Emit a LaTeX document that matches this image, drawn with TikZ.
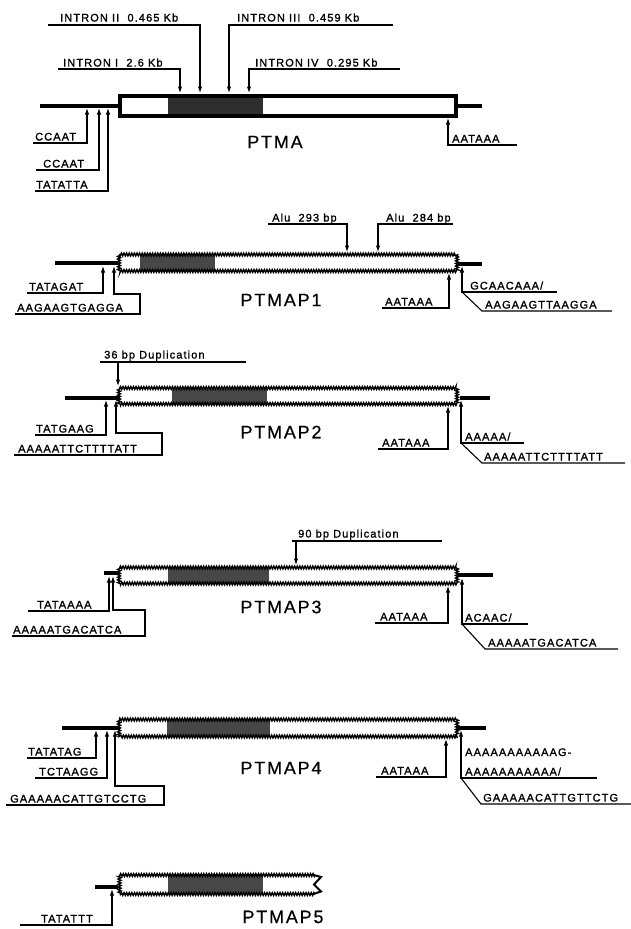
\documentclass[tikz,border=0pt]{standalone}
\usepackage{fontspec}
\usetikzlibrary{arrows.meta,decorations.pathmorphing}
\newfontfamily\labfont[LetterSpace=10,FakeBold=1.2]{Liberation Sans}
\newfontfamily\genefont[LetterSpace=10,FakeBold=0.5]{Liberation Sans}
\begin{document}
\begin{tikzpicture}[x=1pt,y=-1pt,
  seqlab/.style={font=\labfont\fontsize{11}{12}\selectfont, inner sep=0pt, anchor=base west},
  gname/.style={font=\genefont\fontsize{18}{20}\selectfont, inner sep=0pt},
  conn/.style={line width=1.1pt},
  arr/.style={line width=1.1pt, -{Latex[length=6.5pt,width=4.5pt]}},
  flank/.style={line width=3.5pt},
  ropeline/.style={line width=1.4pt, decorate, decoration={zigzag, amplitude=1.4pt, segment length=2.6pt}},
  coreshade/.style={fill=black!72},
  brk/.style={line width=2pt, line join=miter}
]
\useasboundingbox (0,0) rectangle (631,929);

% ================= PTMA =================
\fill[black!82] (168,95) rectangle (263,116);
\draw[line width=4pt] (120,95.5) rectangle (456,115.5);
\draw[flank] (40,106) -- (118,106);
\draw[flank] (458,106) -- (482,106);
\node[gname] (ptma) at (275,142) {PTMA};

\node[seqlab] (i1) at (63,66.5) {INTRON I\ \ 2.6 Kb};
\coordinate (i1s) at (58,69); \coordinate (i1t) at (180,93);
\draw[arr] (i1s) -- (i1t |- i1s) -- (i1t);
\node[seqlab] (i2) at (60,21.5) {INTRON II\ \ 0.465 Kb};
\coordinate (i2s) at (48,25); \coordinate (i2t) at (200,93);
\draw[arr] (i2s) -- (i2t |- i2s) -- (i2t);
\node[seqlab] (i3) at (237,21.5) {INTRON III\ \ 0.459 Kb};
\coordinate (i3s) at (393,25); \coordinate (i3t) at (229,93);
\draw[arr] (i3s) -- (i3t |- i3s) -- (i3t);
\node[seqlab] (i4) at (255,66.5) {INTRON IV\ \ 0.295 Kb};
\coordinate (i4s) at (400,69); \coordinate (i4t) at (249,93);
\draw[arr] (i4s) -- (i4t |- i4s) -- (i4t);

\node[seqlab] (c1) at (35,140.5) {CCAAT};
\coordinate (c1s) at (33,143); \coordinate (c1t) at (87,108);
\draw[arr] (c1s) -- (c1t |- c1s) -- (c1t);
\node[seqlab] (c2) at (43,167.5) {CCAAT};
\coordinate (c2s) at (36,170); \coordinate (c2t) at (99,108);
\draw[arr] (c2s) -- (c2t |- c2s) -- (c2t);
\node[seqlab] (c3) at (36,188.5) {TATATTA};
\coordinate (c3s) at (35,191); \coordinate (c3t) at (108,108);
\draw[arr] (c3s) -- (c3t |- c3s) -- (c3t);

\node[seqlab] (pa0) at (452,142.5) {AATAAA};
\coordinate (pa0s) at (517,145); \coordinate (pa0t) at (448,118);
\draw[arr] (pa0s) -- (pa0t |- pa0s) -- (pa0t);

% ================= PTMAP1 =================
\fill[coreshade] (140,255) rectangle (215,270.5);
\draw[ropeline] (119,254.5) rectangle (457,271);
\draw[flank] (55,263) -- (118,263);
\draw[flank] (458,264) -- (482,264);
\node[gname] (p1) at (281,300) {PTMAP1};

\node[seqlab] (alu1) at (272,221.5) {Alu\ \ 293 bp};
\coordinate (alu1s) at (268,224); \coordinate (alu1t) at (347,252);
\draw[arr] (alu1s) -- (alu1t |- alu1s) -- (alu1t);
\node[seqlab] (alu2) at (386,221.5) {Alu\ \ 284 bp};
\coordinate (alu2s) at (453,224); \coordinate (alu2t) at (378,252);
\draw[arr] (alu2s) -- (alu2t |- alu2s) -- (alu2t);

\node[seqlab] (p1a) at (29,290.5) {TATAGAT};
\coordinate (p1as) at (27,293); \coordinate (p1at) at (103,266);
\draw[arr] (p1as) -- (p1at |- p1as) -- (p1at);
\node[seqlab] (p1b) at (17,311.5) {AAGAAGTGAGGA};
\coordinate (p1bs) at (15,314); \coordinate (p1bt) at (114,266);
\draw[arr] (p1bs) -- (140,314) -- (140,294) -- (114,294) -- (p1bt);
\node[seqlab] (p1c) at (385,305.5) {AATAAA};
\coordinate (p1cs) at (382,308); \coordinate (p1ct) at (449,273);
\draw[arr] (p1cs) -- (p1ct |- p1cs) -- (p1ct);
\node[seqlab] (p1d) at (470,289.5) {GCAACAAA/};
\coordinate (p1ds) at (557,292); \coordinate (p1dt) at (462,266);
\draw[arr] (p1ds) -- (p1dt |- p1ds) -- (p1dt);
\node[seqlab] (p1e) at (485,308.5) {AAGAAGTTAAGGA};
\draw[conn] (612,311) -- (482,311) -- (p1dt |- p1ds);

% ================= PTMAP2 =================
\fill[coreshade] (172,388.5) rectangle (267,404);
\draw[ropeline] (119,388) rectangle (457,404);
\draw[flank] (65,398) -- (118,398);
\draw[flank] (460,398) -- (490,398);
\node[gname] (p2) at (281,432) {PTMAP2};

\node[seqlab] (d36) at (104,358.5) {36 bp Duplication};
\coordinate (d36s) at (246,362); \coordinate (d36t) at (118,386);
\draw[conn] (100,362) -- (d36s);
\draw[arr] (d36t |- d36s) -- (d36t);

\node[seqlab] (p2a) at (36,432.5) {TATGAAG};
\coordinate (p2as) at (35,435); \coordinate (p2at) at (106,400);
\draw[arr] (p2as) -- (p2at |- p2as) -- (p2at);
\node[seqlab] (p2b) at (18,452.5) {AAAAATTCTTTTATT};
\coordinate (p2bs) at (14,455); \coordinate (p2bt) at (116,400);
\draw[arr] (p2bs) -- (162,455) -- (162,433) -- (116,433) -- (p2bt);
\node[seqlab] (p2c) at (382,446.5) {AATAAA};
\coordinate (p2cs) at (378,449); \coordinate (p2ct) at (448,406);
\draw[arr] (p2cs) -- (p2ct |- p2cs) -- (p2ct);
\node[seqlab] (p2d) at (465,440.5) {AAAAA/};
\coordinate (p2ds) at (524,443); \coordinate (p2dt) at (461,400);
\draw[arr] (p2ds) -- (p2dt |- p2ds) -- (p2dt);
\node[seqlab] (p2e) at (484,460.5) {AAAAATTCTTTTATT};
\draw[conn] (625,463) -- (482,463) -- (p2dt |- p2ds);

% ================= PTMAP3 =================
\fill[coreshade] (168,567.5) rectangle (269,583.5);
\draw[ropeline] (119,567.5) rectangle (457,583.5);
\draw[flank] (104,573) -- (118,573);
\draw[flank] (458,575) -- (493,575);
\node[gname] (p3) at (281,607) {PTMAP3};

\node[seqlab] (d90) at (298,537.5) {90 bp Duplication};
\coordinate (d90s) at (442,541); \coordinate (d90t) at (296,565);
\draw[conn] (292,541) -- (d90s);
\draw[arr] (d90t |- d90s) -- (d90t);

\node[seqlab] (p3a) at (37,608.5) {TATAAAA};
\coordinate (p3as) at (28,611); \coordinate (p3at) at (109,576);
\draw[arr] (p3as) -- (p3at |- p3as) -- (p3at);
\node[seqlab] (p3b) at (13,633.5) {AAAAATGACATCA};
\coordinate (p3bs) at (12,636); \coordinate (p3bt) at (113,576);
\draw[arr] (p3bs) -- (145,636) -- (145,610) -- (113,610) -- (p3bt);
\node[seqlab] (p3c) at (380,620.5) {AATAAA};
\coordinate (p3cs) at (375,623); \coordinate (p3ct) at (448,586);
\draw[arr] (p3cs) -- (p3ct |- p3cs) -- (p3ct);
\node[seqlab] (p3d) at (465,621.5) {ACAAC/};
\coordinate (p3ds) at (528,624); \coordinate (p3dt) at (462,578);
\draw[arr] (p3ds) -- (p3dt |- p3ds) -- (p3dt);
\node[seqlab] (p3e) at (488,646.5) {AAAAATGACATCA};
\draw[conn] (618,649) -- (485,649) -- (p3dt |- p3ds);

% ================= PTMAP4 =================
\fill[coreshade] (167,719.5) rectangle (270,736.5);
\draw[ropeline] (119,719.5) rectangle (457,736.5);
\draw[flank] (62,728) -- (118,728);
\draw[flank] (458,728) -- (486,728);
\node[gname] (p4) at (281,768) {PTMAP4};

\node[seqlab] (p4a) at (28,755.5) {TATATAG};
\coordinate (p4as) at (27,758); \coordinate (p4at) at (96,730);
\draw[arr] (p4as) -- (p4at |- p4as) -- (p4at);
\node[seqlab] (p4b) at (39,775.5) {TCTAAGG};
\coordinate (p4bs) at (35,778); \coordinate (p4bt) at (107,730);
\draw[arr] (p4bs) -- (p4bt |- p4bs) -- (p4bt);
\node[seqlab] (p4c) at (10,802.5) {GAAAAACATTGTCCTG};
\coordinate (p4cs) at (6,805); \coordinate (p4ct) at (115,730);
\draw[arr] (p4cs) -- (164,805) -- (164,786) -- (115,786) -- (p4ct);
\node[seqlab] (p4d) at (381,774.5) {AATAAA};
\coordinate (p4ds) at (376,777); \coordinate (p4dt) at (446,739);
\draw[arr] (p4ds) -- (p4dt |- p4ds) -- (p4dt);
\node[seqlab] (p4e) at (465,756) {AAAAAAAAAAAG-};
\node[seqlab] (p4f) at (465,775.5) {AAAAAAAAAAA/};
\coordinate (p4fs) at (597,778); \coordinate (p4ft) at (461,730);
\draw[arr] (p4fs) -- (p4ft |- p4fs) -- (p4ft);
\node[seqlab] (p4g) at (483,801.5) {GAAAAACATTGTTCTG};
\draw[conn] (631,804) -- (481,804) -- (p4ft |- p4fs);

% ================= PTMAP5 =================
\fill[coreshade] (168,875) rectangle (263,894);
\draw[ropeline] (315,875) -- (119.5,875) -- (119.5,894) -- (315,894);
\draw[brk] (312,874.5) -- (321,877) -- (314,884.5) -- (321,891.5) -- (312,894.5);
\draw[flank] (95,887) -- (118,887);
\node[gname] (p5) at (283,917) {PTMAP5};

\node[seqlab] (p5a) at (41,922.5) {TATATTT};
\coordinate (p5as) at (20,925); \coordinate (p5at) at (112,889);
\draw[arr] (p5as) -- (p5at |- p5as) -- (p5at);
\end{tikzpicture}
\end{document}
